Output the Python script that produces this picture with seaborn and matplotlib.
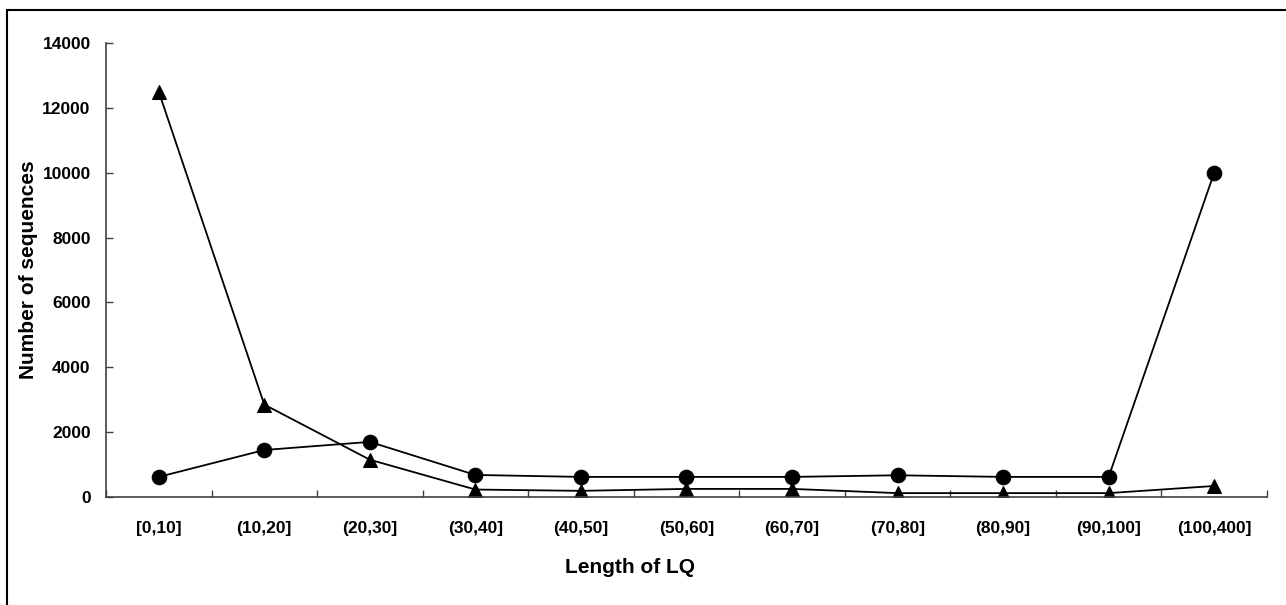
import numpy as np
import pandas as pd
import matplotlib
matplotlib.use("Agg")
import matplotlib.pyplot as plt
from matplotlib.lines import Line2D
from matplotlib.ticker import FixedLocator
import seaborn as sns

# ============================================================
# Data
# ============================================================

categories = ["[0,10]", "(10,20]", "(20,30]", "(30,40]", "(40,50]", "(50,60]",
              "(60,70]", "(70,80]", "(80,90]", "(90,100]", "(100,400]"]
circle_counts = [620, 1450, 1700, 680, 620, 620, 620, 670, 620, 620, 10000]
triangle_counts = [12500, 2850, 1150, 230, 190, 250, 250, 120, 120, 120, 340]
y_ticks = [0, 2000, 4000, 6000, 8000, 10000, 12000, 14000]

df = pd.DataFrame({
    "length": categories * 2,
    "count": circle_counts + triangle_counts,
    "series": ["circle"] * len(categories) + ["triangle"] * len(categories),
})

# ============================================================
# Plot
# ============================================================

sns.set_theme(style="white")
plt.rcParams["font.family"] = ["Liberation Sans", "DejaVu Sans"]
plt.rcParams["font.weight"] = "bold"
for key in ["text.color", "axes.labelcolor", "xtick.color", "ytick.color"]:
    plt.rcParams[key] = "black"

fig = plt.figure(figsize=(12.86, 6.05), dpi=100)
ax = fig.add_axes([0.0824, 0.1785, 0.9028, 0.7504])

sns.lineplot(data=df, x="length", y="count", style="series",
             markers={"circle": "o", "triangle": "^"},
             dashes={"circle": "", "triangle": ""},
             color="black", markersize=10.5, linewidth=1.3,
             markeredgecolor="black", legend=False, sort=False, ax=ax)

ax.set_xlim(-0.5, len(categories) - 0.5)
ax.set_ylim(0, 14000)
ax.set_yticks(y_ticks)
ax.set_yticklabels([str(v) for v in y_ticks], fontsize=12.5, fontweight="bold")
ax.set_xticks(range(len(categories)))
ax.set_xticklabels(categories, fontsize=12.5, fontweight="bold")
ax.xaxis.set_minor_locator(FixedLocator(np.arange(-0.5, len(categories), 1.0)))

ax.tick_params(axis="x", which="major", length=0, pad=17, labelcolor="black")
ax.tick_params(axis="x", which="minor", direction="in", length=5, width=1,
               color="#404040", bottom=True)
ax.tick_params(axis="y", which="major", direction="in", length=5, width=1,
               color="#404040", pad=11, left=True, labelcolor="black")

for side in ["top", "right"]:
    ax.spines[side].set_visible(False)
for side in ["left", "bottom"]:
    ax.spines[side].set_color("#404040")
    ax.spines[side].set_linewidth(1.2)

ax.set_xlabel("Length of LQ", fontsize=15, fontweight="bold", color="black")
ax.set_ylabel("Number of sequences", fontsize=15, fontweight="bold", color="black")
ax.xaxis.set_label_coords(0.451, -0.156)
ax.xaxis.label.set_va("center")
ax.yaxis.set_label_coords(-0.067, 0.5)
ax.yaxis.label.set_va("center")

# chart-area border (top and left visible in the reference)
fig.add_artist(Line2D([7 / 1286, 7 / 1286], [0, 1 - 10 / 605], color="black", lw=1.5))
fig.add_artist(Line2D([7 / 1286, 1], [1 - 10 / 605, 1 - 10 / 605], color="black", lw=1.5))

fig.savefig("out.png", dpi=100, facecolor="white")
